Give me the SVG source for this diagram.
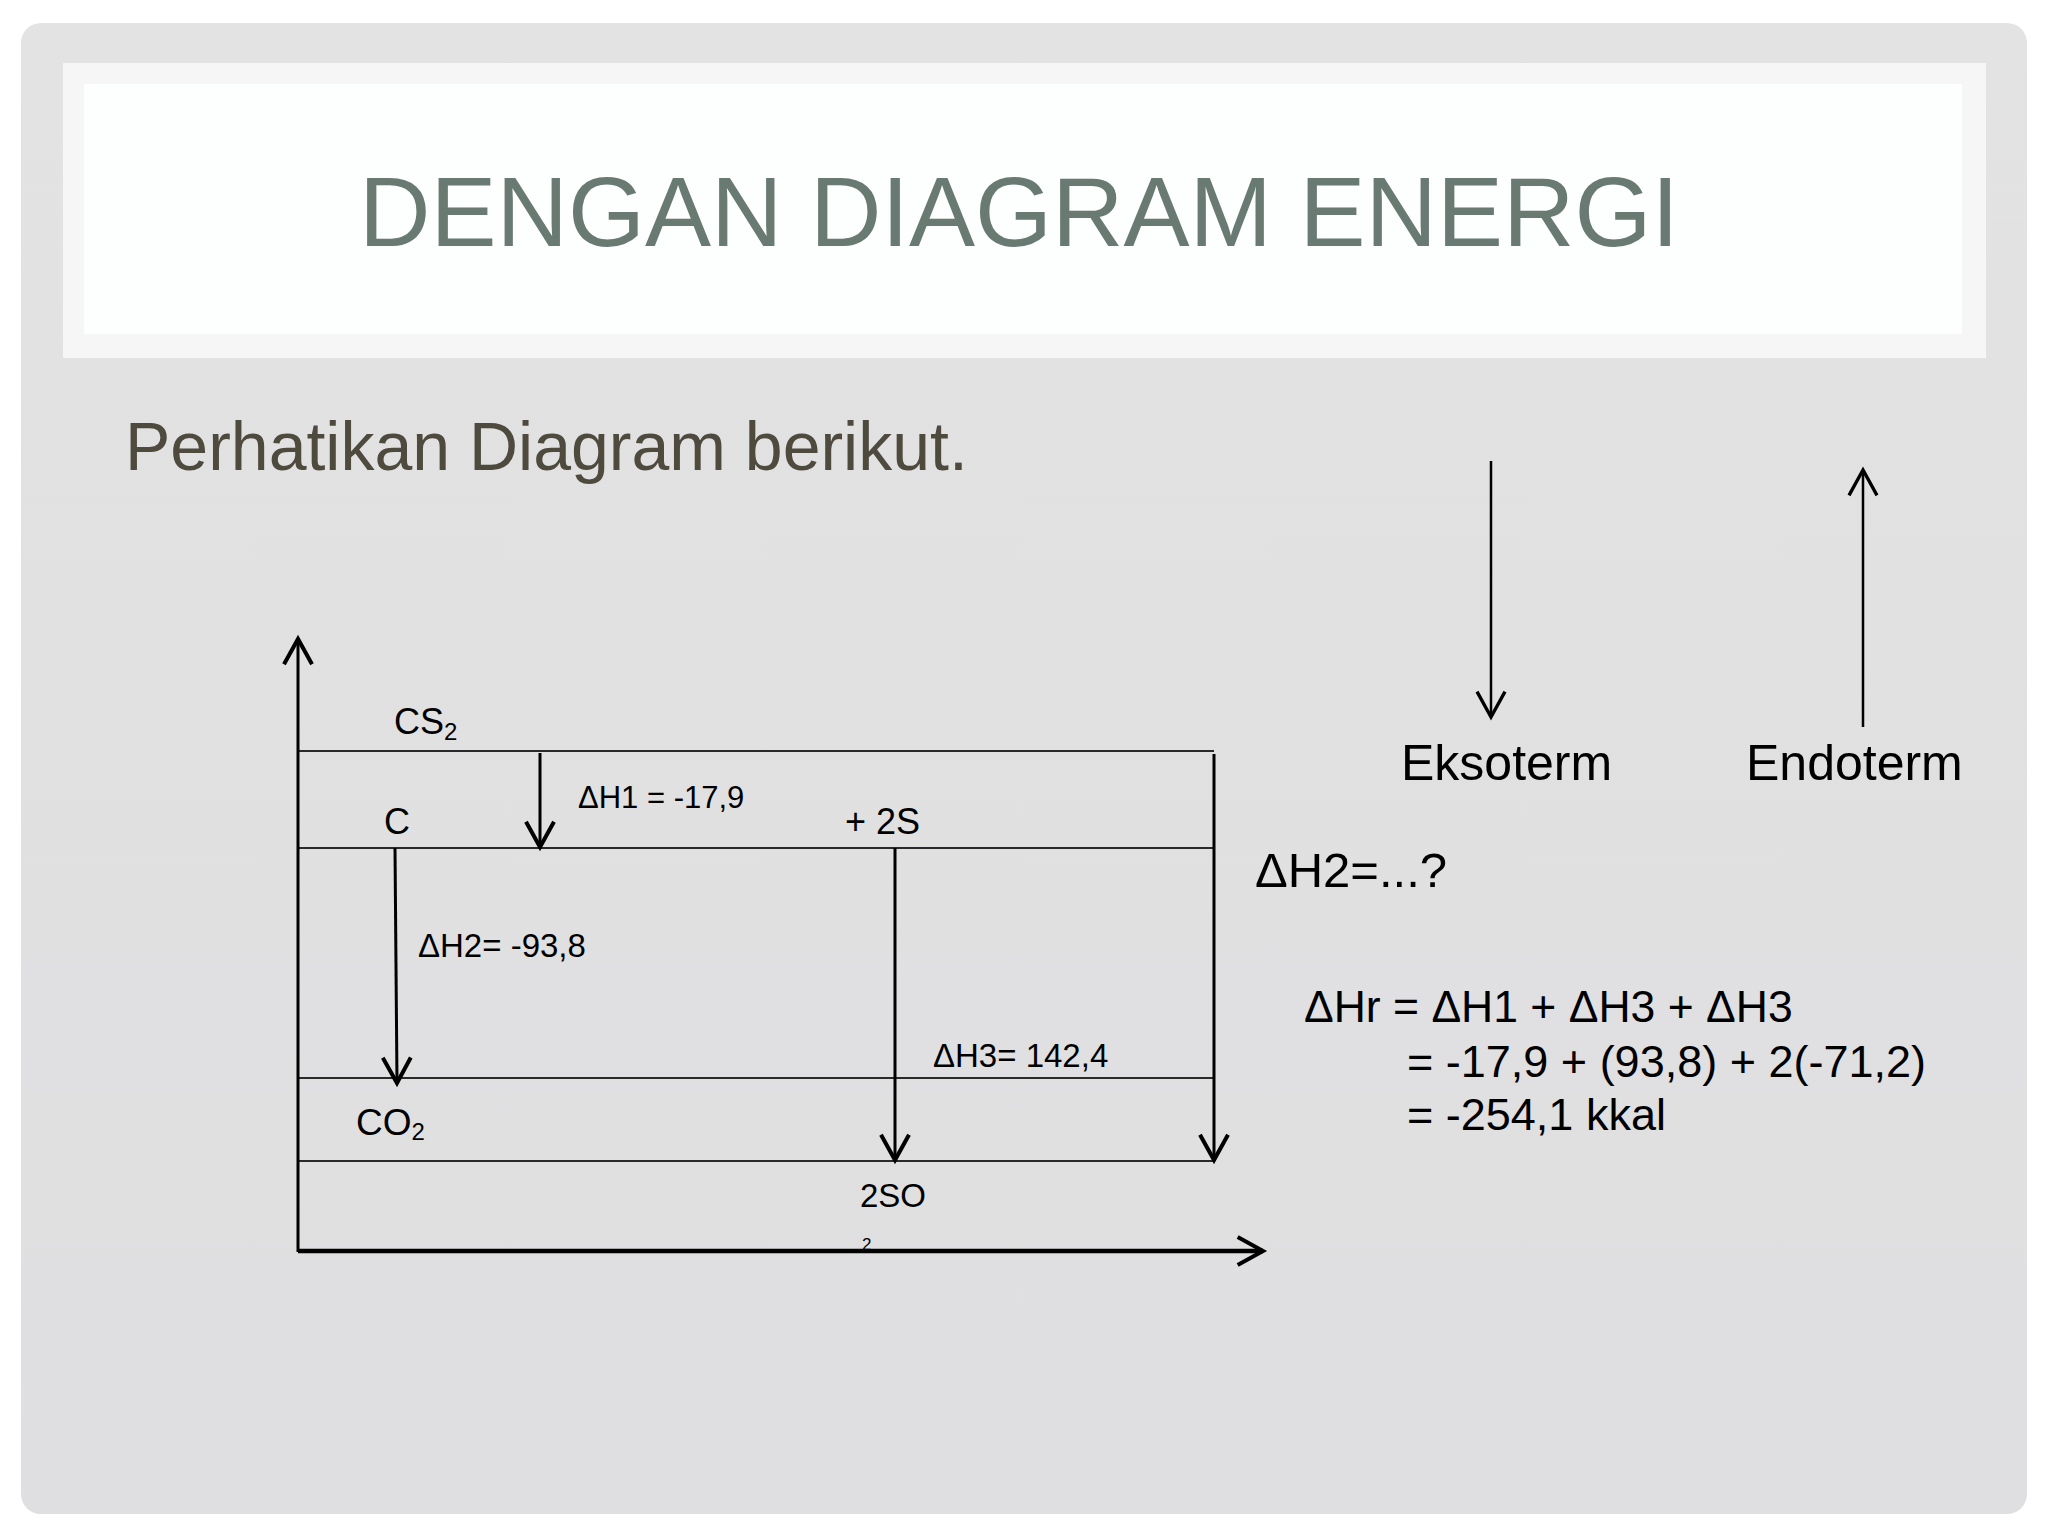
<svg xmlns="http://www.w3.org/2000/svg" width="2048" height="1536" viewBox="0 0 2048 1536">
  <defs>
    <linearGradient id="slideBg" x1="0" y1="0" x2="0" y2="1">
      <stop offset="0" stop-color="#e3e3e3"/>
      <stop offset="1" stop-color="#dfdee0"/>
    </linearGradient>
    <marker id="ah" markerUnits="userSpaceOnUse" markerWidth="40" markerHeight="40" viewBox="-25 -15 30 30" refX="0" refY="0" orient="auto" overflow="visible">
      <path d="M-19,-10.5 L0,0 L-19,10.5" fill="none" stroke="#000" stroke-width="3" stroke-linejoin="miter"/>
    </marker>
    <marker id="ahThin" markerUnits="userSpaceOnUse" markerWidth="40" markerHeight="40" viewBox="-25 -15 30 30" refX="0" refY="0" orient="auto" overflow="visible">
      <path d="M-19,-10.5 L0,0 L-19,10.5" fill="none" stroke="#000" stroke-width="2.5"/>
    </marker>
  </defs>
  <style>
    text { font-family: "Liberation Sans", Arial, sans-serif; fill: #000; }
    .title { font-size: 99px; fill: #687a72; }
    .sub { font-size: 68px; fill: #4f4a3e; }
    .species { font-size: 36px; }
    .dh { font-size: 33px; }
    .big { font-size: 50px; }
    .calc { font-size: 45px; }
    .level { stroke: #2a2a2a; stroke-width: 1.8; fill: none; }
    .axis { stroke: #000; stroke-width: 3; fill: none; }
    .arrow { stroke: #000; stroke-width: 3; fill: none; marker-end: url(#ah); }
    .thin { stroke: #000; stroke-width: 2.5; fill: none; marker-end: url(#ahThin); }
  </style>

  <rect x="0" y="0" width="2048" height="1536" fill="#ffffff"/>
  <rect id="slide" x="21" y="23" width="2006" height="1491" rx="20" ry="20" fill="url(#slideBg)"/>

  <g id="title-box">
    <rect x="63" y="63" width="1923" height="295" fill="#f6f6f6"/>
    <rect x="84" y="84" width="1878" height="250" fill="#fdfefe"/>
    <text class="title" x="1019" y="246" text-anchor="middle">DENGAN DIAGRAM ENERGI</text>
  </g>

  <g id="subtitle">
    <text class="sub" x="125" y="470">Perhatikan Diagram berikut.</text>
  </g>

  <g id="levels">
    <line class="level" x1="298" y1="751" x2="1214" y2="751"/>
    <line class="level" x1="298" y1="848" x2="1214" y2="848"/>
    <line class="level" x1="298" y1="1078" x2="1214" y2="1078"/>
    <line class="level" x1="298" y1="1161" x2="1214" y2="1161"/>
  </g>

  <g id="node-cs2"><text class="species" x="394" y="734">CS<tspan style="font-size:24px" dy="6">2</tspan></text></g>
  <g id="node-c"><text class="species" x="384" y="834">C</text></g>
  <g id="node-2s"><text class="species" x="845" y="834">+ 2S</text></g>
  <g id="node-co2"><text class="species" x="356" y="1135" style="font-size:37px">CO<tspan style="font-size:24px" dy="5">2</tspan></text></g>
  <g id="node-2so2">
    <text x="860" y="1207" style="font-size:33px">2SO</text>
    <text x="862" y="1250" style="font-size:17px">2</text>
  </g>

  <g id="labels">
    <text class="dh" x="578" y="808" style="font-size:31px">ΔH1 = -17,9</text>
    <text class="dh" x="418" y="957">ΔH2= -93,8</text>
    <text class="dh" x="933" y="1067">ΔH3= 142,4</text>
  </g>

  <g id="connectors">
    <line class="axis" x1="298" y1="1252" x2="298" y2="639" marker-end="url(#ah)"/>
    <line x1="298" y1="1251" x2="1263" y2="1251" stroke="#000" stroke-width="4.5" marker-end="url(#ah)"/>
    <line class="arrow" x1="540" y1="753" x2="540" y2="847"/>
    <line class="arrow" x1="395" y1="848" x2="397" y2="1083"/>
    <line class="arrow" x1="895" y1="848" x2="895" y2="1160"/>
    <line class="arrow" x1="1214" y1="754" x2="1214" y2="1160"/>
    <line class="thin" x1="1491" y1="461" x2="1491" y2="717"/>
    <line class="thin" x1="1863" y1="727" x2="1863" y2="470"/>
  </g>

  <g id="legend">
    <text class="big" x="1401" y="780">Eksoterm</text>
    <text class="big" x="1746" y="780">Endoterm</text>
  </g>

  <g id="question">
    <text class="big" x="1255" y="887" style="font-size:49px">ΔH2=...?</text>
  </g>

  <g id="calculation">
    <text class="calc" x="1304" y="1022" style="font-size:44.5px">ΔHr = ΔH1 + ΔH3 + ΔH3</text>
    <text class="calc" x="1407" y="1077">= -17,9 + (93,8) + 2(-71,2)</text>
    <text class="calc" x="1407" y="1130">= -254,1 kkal</text>
  </g>
</svg>
